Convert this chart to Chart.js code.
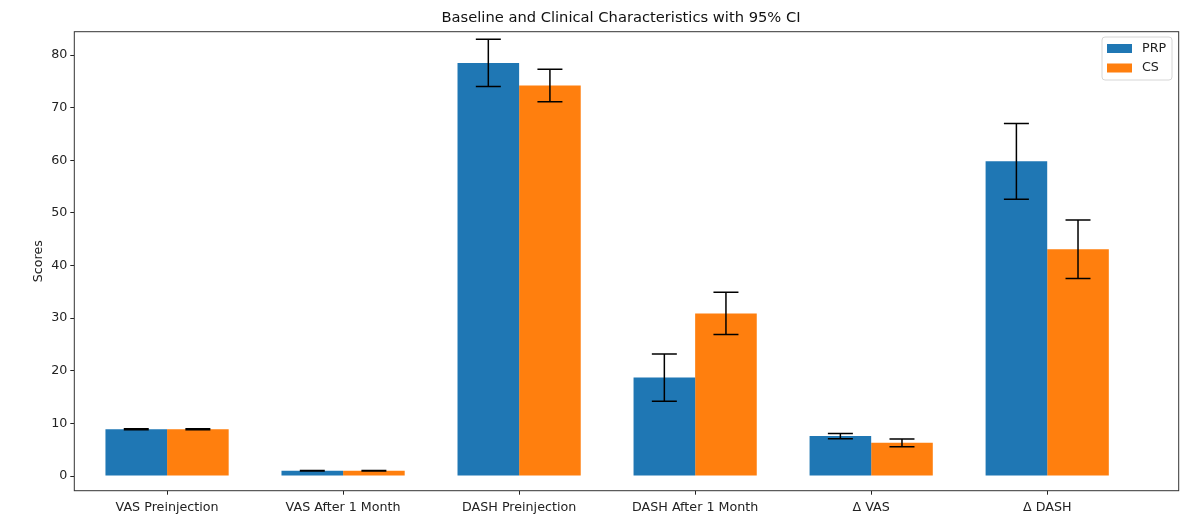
<!DOCTYPE html>
<html>
<head>
<meta charset="utf-8">
<script src="https://cdn.jsdelivr.net/npm/chart.js@4.4.1/dist/chart.umd.min.js"></script>
<style>
  body { margin: 0; background: #fff; }
  #wrap { width: 1200px; height: 524px; }
</style>
</head>
<body>
<div id="wrap"><canvas id="chart" width="1200" height="524"></canvas></div>
<script>
const categories = ["VAS Preinjection", "VAS After 1 Month", "DASH Preinjection", "DASH After 1 Month", "\u0394 VAS", "\u0394 DASH"];
const prpMeans = [8.9, 1.0, 78.5, 18.7, 7.6, 59.8];
const prpCI = [0.1, 0.05, 4.5, 4.5, 0.5, 7.2];
const csMeans = [8.9, 1.0, 74.2, 30.9, 6.3, 43.1];
const csCI = [0.1, 0.05, 3.1, 4.0, 0.75, 5.55];
const yTicks = [0, 10, 20, 30, 40, 50, 60, 70, 80];

const FONT = "'DejaVu Sans', sans-serif";

const toPoints = (vals) => vals.map((v, i) => ({ x: i, y: v }));

const errorBars = {
  id: "errorBars",
  afterDatasetsDraw(chart) {
    const ctx = chart.ctx;
    const yScale = chart.scales.y;
    const cis = [prpCI, csCI];
    ctx.save();
    ctx.strokeStyle = "#000";
    ctx.lineWidth = 1.5;
    chart.data.datasets.forEach((ds, d) => {
      const meta = chart.getDatasetMeta(d);
      meta.data.forEach((bar, i) => {
        const v = ds.data[i].y;
        const top = yScale.getPixelForValue(v + cis[d][i]);
        const bot = yScale.getPixelForValue(v - cis[d][i]);
        const x = bar.x;
        ctx.beginPath();
        ctx.moveTo(x, top); ctx.lineTo(x, bot);
        ctx.moveTo(x - 12.5, top); ctx.lineTo(x + 12.5, top);
        ctx.moveTo(x - 12.5, bot); ctx.lineTo(x + 12.5, bot);
        ctx.stroke();
      });
    });
    ctx.restore();
  }
};

const frameAndText = {
  id: "frameAndText",
  afterDraw(chart) {
    const ctx = chart.ctx;
    const a = chart.chartArea;
    ctx.save();
    ctx.strokeStyle = "#333";
    ctx.lineWidth = 1;
    ctx.strokeRect(a.left, a.top, a.right - a.left, a.bottom - a.top);

    // title
    ctx.fillStyle = "#111";
    ctx.font = "14.7px " + FONT;
    ctx.textAlign = "center";
    ctx.textBaseline = "middle";
    ctx.fillText("Baseline and Clinical Characteristics with 95% CI", 621, 18);

    // legend
    const lx = 1102, ly = 37, lw = 70, lh = 43;
    ctx.beginPath();
    ctx.roundRect(lx, ly, lw, lh, 3);
    ctx.fillStyle = "rgba(255,255,255,0.8)";
    ctx.fill();
    ctx.strokeStyle = "#d6d6d6";
    ctx.stroke();
    const items = [["PRP", "#1f77b4", 44], ["CS", "#ff7f0e", 63.5]];
    ctx.font = "12.7px " + FONT;
    ctx.textAlign = "left";
    items.forEach(([label, color, y]) => {
      ctx.fillStyle = color;
      ctx.fillRect(1107, y, 25, 9);
      ctx.fillStyle = "#222";
      ctx.fillText(label, 1142, y + 4.5);
    });
    ctx.restore();
  }
};

new Chart(document.getElementById("chart"), {
  type: "bar",
  data: {
    datasets: [
      { label: "PRP", data: toPoints(prpMeans), backgroundColor: "#1f77b4", borderWidth: 0 },
      { label: "CS", data: toPoints(csMeans), backgroundColor: "#ff7f0e", borderWidth: 0 }
    ]
  },
  options: {
    responsive: false,
    animation: false,
    devicePixelRatio: 1,
    layout: { padding: { top: 31.7, right: 21.3, left: 0, bottom: 0 } },
    categoryPercentage: 0.7,
    barPercentage: 1.0,
    plugins: { legend: { display: false }, title: { display: false }, tooltip: { enabled: false } },
    scales: {
      x: {
        type: "linear",
        min: -0.527,
        max: 5.747,
        offset: false,
        afterBuildTicks: (scale) => { scale.ticks = categories.map((_, i) => ({ value: i })); },
        afterFit: (scale) => { scale.height = 33.3; },
        ticks: {
          callback: (v) => categories[v],
          font: { family: FONT, size: 12.7 },
          color: "#222",
          padding: 5,
          maxRotation: 0,
          autoSkip: false
        },
        grid: { offset: false, drawOnChartArea: false, drawTicks: true, tickLength: 4, color: "#222" },
        border: { display: false }
      },
      y: {
        min: -2.79,
        max: 84.43,
        afterBuildTicks: (scale) => { scale.ticks = yTicks.map((v) => ({ value: v })); },
        afterFit: (scale) => { scale.width = 74.3; },
        ticks: {
          font: { family: FONT, size: 12.7 },
          color: "#222",
          padding: 3
        },
        grid: { drawOnChartArea: false, drawTicks: true, tickLength: 4, color: "#222" },
        border: { display: false },
        title: {
          display: true,
          text: "Scores",
          font: { family: FONT, size: 12.7 },
          color: "#222",
          padding: { top: 31, bottom: 0 }
        }
      }
    }
  },
  plugins: [errorBars, frameAndText]
});
</script>
</body>
</html>
